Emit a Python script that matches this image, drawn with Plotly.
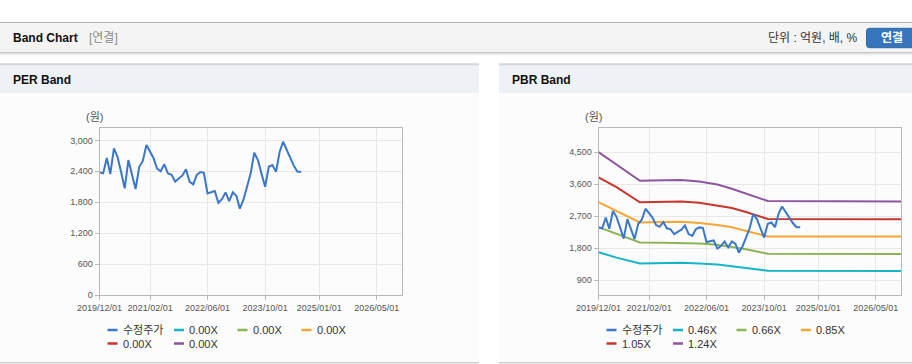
import pandas as pd
import plotly.graph_objects as go

W, H = 912, 364

# ---------------- data ----------------
price = [2380, 2360, 2660, 2346, 2845, 2682, 2380, 2069, 2618, 2330, 2056, 2488,
         2600, 2909, 2780, 2660, 2450, 2400, 2535, 2360, 2330, 2197, 2260, 2320,
         2438, 2197, 2147, 2327, 2385, 2372, 1972, 2000, 2017, 1790, 1860, 1991,
         1823, 1991, 1920, 1674, 1850, 2100, 2360, 2760, 2618, 2350, 2100, 2488,
         2521, 2391, 2779, 2973, 2810, 2651, 2500, 2391, 2391]
price_dates = pd.date_range("2019-12-01", periods=len(price), freq="MS")

band_dates = ["2019-12-01", "2020-05-01", "2020-11-15", "2021-06-01", "2021-11-01",
              "2022-04-01", "2022-09-01", "2023-01-01", "2023-05-01", "2023-08-01",
              "2023-11-01", "2026-12-01"]
band_046 = [1688, 1537, 1369, 1385, 1390, 1369, 1345, 1295, 1240, 1200, 1165, 1162]
band_066 = [2391, 2194, 1959, 1955, 1945, 1930, 1895, 1840, 1770, 1710, 1645, 1641]
band_085 = [3094, 2850, 2522, 2535, 2541, 2505, 2455, 2390, 2290, 2205, 2130, 2128]
band_105 = [3788, 3516, 3090, 3112, 3112, 3075, 3000, 2930, 2815, 2720, 2620, 2616]
band_124 = [4500, 4150, 3694, 3705, 3713, 3670, 3590, 3470, 3330, 3225, 3125, 3112]

price_name = "수정주가"
per_band_labels = ["0.00X", "0.00X", "0.00X", "0.00X", "0.00X"]
pbr_band_labels = ["0.46X", "0.66X", "0.85X", "1.05X", "1.24X"]

x_tick_vals = ["2019-12-01", "2021-02-01", "2022-06-01", "2023-10-01", "2025-01-01", "2026-05-01"]
x_tick_text = ["2019/12/01", "2021/02/01", "2022/06/01", "2023/10/01", "2025/01/01", "2026/05/01"]
per_y_ticks = [0, 600, 1200, 1800, 2400, 3000]
pbr_y_ticks = [900, 1800, 2700, 3600, 4500]

# ---------------- style ----------------
C_PRICE = "#3a77c9"
BAND_COLORS = ["#17b3c6", "#8cb457", "#f4a637", "#c8352c", "#8d569e"]
FONT = "Liberation Sans, Arial, Noto Sans CJK KR, sans-serif"


def px(x):
    return x / W


def py(y):
    return 1 - y / H


fig = go.Figure()

# PER panel: price only
fig.add_trace(go.Scatter(x=price_dates, y=price, mode="lines", name=price_name,
                         line=dict(color=C_PRICE, width=2), xaxis="x", yaxis="y",
                         showlegend=False))

# PBR panel: bands + price
bands = [band_046, band_066, band_085, band_105, band_124]
for vals, col, lab in zip(bands, BAND_COLORS, pbr_band_labels):
    fig.add_trace(go.Scatter(x=band_dates, y=vals, mode="lines", name=lab,
                             line=dict(color=col, width=2), xaxis="x2", yaxis="y2",
                             showlegend=False))
fig.add_trace(go.Scatter(x=price_dates, y=price, mode="lines", name=price_name,
                         line=dict(color=C_PRICE, width=2), xaxis="x2", yaxis="y2",
                         showlegend=False))

axis_common = dict(showline=True, mirror=True, linecolor="#b8b8b8", linewidth=1,
                   showgrid=True, gridcolor="#e8e8e8", gridwidth=1, zeroline=False,
                   ticks="outside", ticklen=4, tickcolor="#b8b8b8", automargin=False,
                   tickfont=dict(family=FONT, size=9, color="#555555"))

xcommon = dict(axis_common, type="date", range=["2019-12-01", "2026-12-01"],
               tickmode="array", tickvals=x_tick_vals, ticktext=x_tick_text)

fig.update_layout(
    template="none",
    width=W, height=H, autosize=False,
    margin=dict(l=0, r=0, t=0, b=0, pad=0),
    paper_bgcolor="white", plot_bgcolor="white",
    font=dict(family=FONT, size=11, color="#333333"),
    showlegend=False,
    xaxis=dict(xcommon, domain=[px(99.5), px(402)], anchor="y"),
    yaxis=dict(axis_common, domain=[py(295), py(128)], range=[0, 3240],
               tickmode="array", tickvals=per_y_ticks, tickformat=",", anchor="x"),
    xaxis2=dict(xcommon, domain=[px(598.5), px(901)], anchor="y2"),
    yaxis2=dict(axis_common, domain=[py(295), py(128)], range=[487, 5175],
                tickmode="array", tickvals=pbr_y_ticks, tickformat=",", anchor="x2"),
    hovermode=False,
)

shapes = []
# top header bar
shapes.append(dict(type="rect", xref="paper", yref="paper", x0=0, x1=1,
                   y0=py(52.5), y1=py(22.5), fillcolor="#f4f4f4", line_width=0, layer="below"))
shapes.append(dict(type="line", xref="paper", yref="paper", x0=0, x1=1,
                   y0=py(22.5), y1=py(22.5), line=dict(color="#b2b2b2", width=1.2)))
shapes.append(dict(type="line", xref="paper", yref="paper", x0=0, x1=1,
                   y0=py(52.8), y1=py(52.8), line=dict(color="#c4c4c4", width=1.5)))
shapes.append(dict(type="line", xref="paper", yref="paper", x0=0, x1=1,
                   y0=py(54.5), y1=py(54.5), line=dict(color="#ececec", width=1.5)))

# panels
for x0, x1 in [(0, 479), (499, 912)]:
    shapes.append(dict(type="rect", xref="paper", yref="paper", x0=px(x0), x1=px(x1),
                       y0=py(362), y1=py(93), fillcolor="#fcfcfc", line_width=0, layer="below"))
    shapes.append(dict(type="rect", xref="paper", yref="paper", x0=px(x0), x1=px(x1),
                       y0=py(93), y1=py(64), fillcolor="#eef2f7", line_width=0, layer="below"))
    shapes.append(dict(type="line", xref="paper", yref="paper", x0=px(x0), x1=px(x1),
                       y0=py(64.3), y1=py(64.3), line=dict(color="#d4d6d8", width=2)))
    shapes.append(dict(type="line", xref="paper", yref="paper", x0=px(x0), x1=px(x1),
                       y0=py(362.7), y1=py(362.7), line=dict(color="#cfcfcf", width=1.5)))

# button
bx0, bx1, by0, by1, r = 866.5, 916, 28.3, 47.7, 3
path = (f"M {px(bx0 + r)},{py(by0)} L {px(bx1)},{py(by0)} L {px(bx1)},{py(by1)} "
        f"L {px(bx0 + r)},{py(by1)} Q {px(bx0)},{py(by1)} {px(bx0)},{py(by1 - r)} "
        f"L {px(bx0)},{py(by0 + r)} Q {px(bx0)},{py(by0)} {px(bx0 + r)},{py(by0)} Z")
shapes.append(dict(type="path", xref="paper", yref="paper", path=path,
                   fillcolor="#3776bc", line=dict(color="#2f68a8", width=1)))

annotations = []


def text(x, y, s, size=12, color="#333333", bold=False, anchor="left"):
    annotations.append(dict(xref="paper", yref="paper", x=px(x), y=py(y), text=(f"<b>{s}</b>" if bold else s),
                            showarrow=False, xanchor=anchor, yanchor="middle",
                            font=dict(family=FONT, size=size, color=color)))


text(11, 38, "Band Chart", size=12, color="#111111", bold=True)
text(87, 38, "[연결]", size=12, color="#8a8a8a")
text(860, 38, "단위 : 억원, 배, %", size=12, color="#333333", anchor="right")
text(892, 38, "연결", size=12, color="#ffffff", bold=True, anchor="center")
text(11, 80, "PER Band", size=12, color="#111111", bold=True)
text(510, 80, "PBR Band", size=12, color="#111111", bold=True)
text(94, 117, "(원)", size=11, color="#555555", anchor="center")
text(593, 117, "(원)", size=11, color="#555555", anchor="center")

# legends (manual)
def legend(items):
    for name, col, lx, ly in items:
        shapes.append(dict(type="line", xref="paper", yref="paper", x0=px(lx), x1=px(lx + 10),
                           y0=py(ly), y1=py(ly), line=dict(color=col, width=2.5)))
        text(lx + 13, ly, name, size=11, color="#333333")


per_items = [(price_name, C_PRICE, 107.5, 330),
             (per_band_labels[0], BAND_COLORS[0], 174, 330),
             (per_band_labels[1], BAND_COLORS[1], 237.5, 330),
             (per_band_labels[2], BAND_COLORS[2], 301.5, 330),
             (per_band_labels[3], BAND_COLORS[3], 107.5, 343.5),
             (per_band_labels[4], BAND_COLORS[4], 174, 343.5)]
pbr_items = [(price_name, C_PRICE, 606.5, 330),
             (pbr_band_labels[0], BAND_COLORS[0], 673, 330),
             (pbr_band_labels[1], BAND_COLORS[1], 736.5, 330),
             (pbr_band_labels[2], BAND_COLORS[2], 801, 330),
             (pbr_band_labels[3], BAND_COLORS[3], 606.5, 343.5),
             (pbr_band_labels[4], BAND_COLORS[4], 673, 343.5)]
legend(per_items)
legend(pbr_items)

fig.update_layout(shapes=shapes, annotations=annotations)

fig.write_html("out.html", config={"displayModeBar": False},
               post_script="document.body.style.margin='0';document.body.style.padding='0';")
